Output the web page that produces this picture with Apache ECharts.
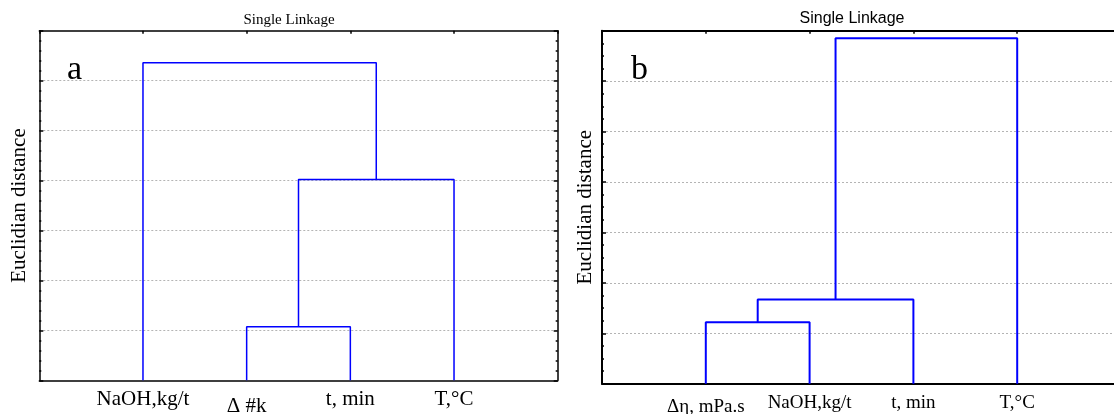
<!DOCTYPE html>
<html>
<head>
<meta charset="utf-8">
<script src="https://cdn.jsdelivr.net/npm/echarts@6/dist/echarts.min.js"></script>
<style>html,body{margin:0;padding:0;background:#fff}#main{width:1114px;height:414px}</style>
</head>
<body>
<div id="main"></div>
<script>
// panel a: leaves in plot order, merges (node indices) and merge heights
var leavesA = ['NaOH,kg/t', 'Δ #k', 't, min', 'T,°C'];
var pairsA = [[1, 2], [4, 3], [0, 5]];
var heightsA = [1.07, 4.02, 6.36];

// panel b
var leavesB = ['Δη, mPa.s', 'NaOH,kg/t', 't, min', 'T,°C'];
var pairsB = [[0, 1], [4, 2], [5, 3]];
var heightsB = [1.22, 1.67, 6.85];

var lowLabels = ['Δ #k', 'Δη, mPa.s'];
var serif = 'Liberation Serif';

var dom = document.getElementById('main');
var myChart = echarts.init(dom);

function linkSeries(leaves, pairs, heights, idx, width) {
    var xs = leaves.map(function (n, i) { return i + 1; });
    var hs = leaves.map(function () { return 0; });
    return pairs.map(function (p, k) {
        var l = p[0], r = p[1], h = heights[k];
        xs.push((xs[l] + xs[r]) / 2);
        hs.push(h);
        return {
            type: 'line',
            xAxisIndex: idx * 2,
            yAxisIndex: idx * 2,
            data: [[xs[l], hs[l]], [xs[l], h], [xs[r], h], [xs[r], hs[r]]],
            symbol: 'none',
            silent: true,
            lineStyle: { color: '#0000ff', width: width }
        };
    });
}

function xAxes(grid, leaves, w, size, margin, drop) {
    return [{
        type: 'value', gridIndex: grid, min: 0, max: 5, interval: 1, position: 'bottom',
        axisLine: { onZero: false, lineStyle: { color: '#000', width: w } },
        axisTick: { show: false },
        splitLine: { show: false },
        axisLabel: {
            margin: margin, fontFamily: serif, fontSize: size, color: '#000',
            formatter: function (v) {
                var n = leaves[v - 1];
                if (!n) return '';
                return lowLabels.indexOf(n) >= 0 ? '{low|' + n + '}' : n;
            },
            rich: { low: { fontFamily: serif, fontSize: size, color: '#000', padding: [drop, 0, 0, 0] } }
        }
    }, {
        type: 'value', gridIndex: grid, min: 0, max: 5, interval: 1, position: 'top',
        axisLine: { onZero: false, lineStyle: { color: '#000', width: w } },
        axisTick: { inside: true, length: 3, lineStyle: { color: '#000', width: 1.5 } },
        axisLabel: { show: false },
        splitLine: { show: false }
    }];
}

function yAxes(grid, w, minor, gap) {
    var base = {
        type: 'value', gridIndex: grid, min: 0, max: 7, interval: 1,
        axisLine: { onZero: false, lineStyle: { color: '#000', width: w } },
        axisTick: { inside: true, length: 4, lineStyle: { color: '#000', width: 1.5 } },
        minorTick: { show: true, splitNumber: minor, length: 2, lineStyle: { color: '#000', width: 1.5 } },
        axisLabel: { show: false }
    };
    return [
        Object.assign({}, base, {
            position: 'left',
            name: 'Euclidian distance',
            nameLocation: 'middle',
            nameGap: gap,
            nameTextStyle: { fontFamily: serif, fontSize: 21, color: '#000' },
            splitLine: { show: true, showMinLine: false, showMaxLine: false,
                lineStyle: { color: '#b4b4b4', width: 1, type: [2, 2] } }
        }),
        Object.assign({}, base, { position: 'right', splitLine: { show: false } })
    ];
}

var option = {
    animation: false,
    title: [
        { text: 'Single Linkage', left: 284, top: 8, textAlign: 'center',
          textStyle: { fontFamily: serif, fontSize: 15, fontWeight: 'normal', color: '#000' } },
        { text: 'Single Linkage', left: 847, top: 6, textAlign: 'center',
          textStyle: { fontFamily: 'Liberation Sans', fontSize: 16, fontWeight: 'normal', color: '#000' } }
    ],
    grid: [
        { left: 39.3, top: 30.7, width: 518.4, height: 349.6, outerBoundsMode: 'none' },
        { left: 602, top: 30.7, width: 519, height: 353, outerBoundsMode: 'none' }
    ],
    xAxis: xAxes(0, leavesA, 1.5, 21, 9, 7).concat(xAxes(1, leavesB, 2, 19, 10, 4)),
    yAxis: yAxes(0, 1.5, 5, 9).concat(yAxes(1, 2, 4, 6)),
    graphic: [
        { type: 'text', left: 67, top: 53, style: { text: 'a', font: '34px "Liberation Serif"', fill: '#000' } },
        { type: 'text', left: 631, top: 53, style: { text: 'b', font: '34px "Liberation Serif"', fill: '#000' } }
    ],
    series: linkSeries(leavesA, pairsA, heightsA, 0, 1.5)
        .concat(linkSeries(leavesB, pairsB, heightsB, 1, 2))
};

if (option && typeof option === 'object') {
    myChart.setOption(option);
}
</script>
</body>
</html>
